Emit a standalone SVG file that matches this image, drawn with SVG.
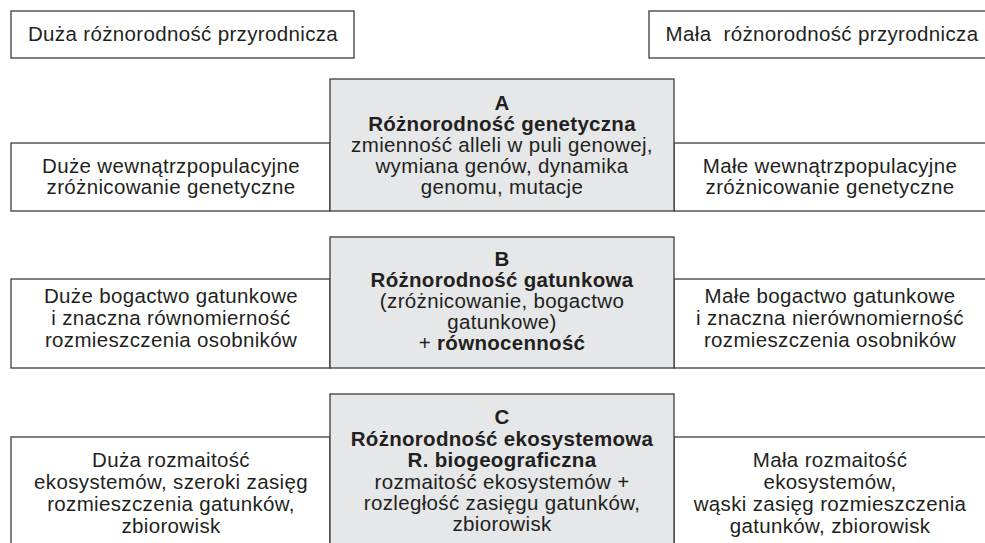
<svg xmlns="http://www.w3.org/2000/svg" width="985" height="543" viewBox="0 0 985 543">
<style>
  .box { fill: #ffffff; stroke: #3c3c3c; stroke-width: 1.3; }
  .core { fill: #e6e7e8; stroke: #3c3c3c; stroke-width: 1.3; }
  text { font-family: "Liberation Sans", Arial, sans-serif; font-size: 20.5px; fill: #231f20; text-anchor: middle; letter-spacing: 0.35px; white-space: pre; }
  .b { font-weight: bold; letter-spacing: 0.3px; }
</style>
<rect width="985" height="543" fill="#ffffff"/>
<g id="connectors"></g>
<g id="top-left">
  <rect class="box" x="11" y="11" width="343" height="47"/>
  <text x="183" y="41">Duża różnorodność przyrodnicza</text>
</g>
<g id="top-right">
  <rect class="box" x="649" y="11" width="345" height="47"/>
  <text x="822" y="41">Mała  różnorodność przyrodnicza</text>
</g>
<g id="a-left">
  <rect class="box" x="11" y="143" width="319" height="68"/>
  <text x="171" y="173">Duże wewnątrzpopulacyjne</text>
  <text x="171" y="194">zróżnicowanie genetyczne</text>
</g>
<g id="a-right">
  <rect class="box" x="674" y="143" width="320" height="68"/>
  <text x="830" y="173">Małe wewnątrzpopulacyjne</text>
  <text x="830" y="194">zróżnicowanie genetyczne</text>
</g>
<g id="a-core">
  <rect class="core" x="330" y="79" width="344" height="132"/>
  <text class="b" x="502" y="110">A</text>
  <text class="b" x="502" y="131">Różnorodność genetyczna</text>
  <text x="502" y="152">zmienność alleli w puli genowej,</text>
  <text x="502" y="173">wymiana genów, dynamika</text>
  <text x="502" y="194">genomu, mutacje</text>
</g>
<g id="b-left">
  <rect class="box" x="11" y="279" width="319" height="89"/>
  <text x="171" y="303">Duże bogactwo gatunkowe</text>
  <text x="171" y="325">i znaczna równomierność</text>
  <text x="171" y="347">rozmieszczenia osobników</text>
</g>
<g id="b-right">
  <rect class="box" x="674" y="279" width="320" height="89"/>
  <text x="830" y="303">Małe bogactwo gatunkowe</text>
  <text x="830" y="325">i znaczna nierównomierność</text>
  <text x="830" y="347">rozmieszczenia osobników</text>
</g>
<g id="b-core">
  <rect class="core" x="330" y="237" width="344" height="131"/>
  <text class="b" x="502" y="266">B</text>
  <text class="b" x="502" y="287">Różnorodność gatunkowa</text>
  <text x="502" y="308">(zróżnicowanie, bogactwo</text>
  <text x="502" y="329">gatunkowe)</text>
  <text x="502" y="350">+ <tspan class="b">równocenność</tspan></text>
</g>
<g id="c-left">
  <rect class="box" x="11" y="437" width="319" height="120"/>
  <text x="171" y="467">Duża rozmaitość</text>
  <text x="171" y="489">ekosystemów, szeroki zasięg</text>
  <text x="171" y="511">rozmieszczenia gatunków,</text>
  <text x="171" y="533">zbiorowisk</text>
</g>
<g id="c-right">
  <rect class="box" x="674" y="437" width="320" height="120"/>
  <text x="830" y="467">Mała rozmaitość</text>
  <text x="830" y="489">ekosystemów,</text>
  <text x="830" y="511">wąski zasięg rozmieszczenia</text>
  <text x="830" y="533">gatunków, zbiorowisk</text>
</g>
<g id="c-core">
  <rect class="core" x="330" y="394" width="344" height="160"/>
  <text class="b" x="502" y="424">C</text>
  <text class="b" x="502" y="446">Różnorodność ekosystemowa</text>
  <text class="b" x="502" y="467">R. biogeograficzna</text>
  <text x="502" y="489">rozmaitość ekosystemów +</text>
  <text x="502" y="510">rozległość zasięgu gatunków,</text>
  <text x="502" y="531">zbiorowisk</text>
</g>
</svg>
